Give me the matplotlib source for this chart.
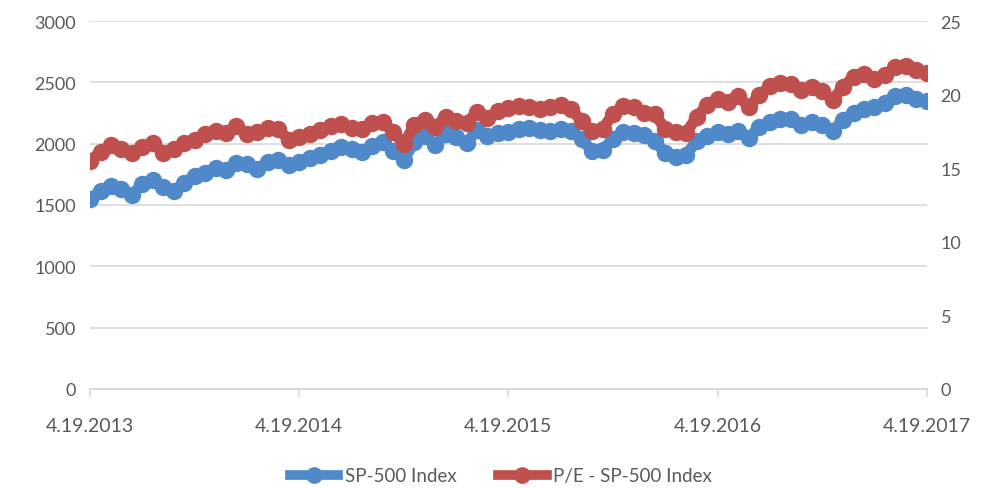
import matplotlib
matplotlib.use("Agg")
import matplotlib.pyplot as plt
import numpy as np
from matplotlib.lines import Line2D

# roughly three-weekly readings, 4.19.2013 .. 4.19.2017
sp500 = [
    1549, 1614, 1655, 1631, 1582, 1671, 1704, 1647, 1614, 1680,
    1737, 1761, 1802, 1785, 1843, 1834, 1794, 1851, 1867, 1826,
    1851, 1883, 1908, 1940, 1973, 1957, 1932, 1981, 2014, 1940,
    1867, 2014, 2063, 1989, 2079, 2055, 2006, 2111, 2063, 2087,
    2095, 2120, 2128, 2111, 2103, 2120, 2103, 2038, 1940, 1949,
    2038, 2095, 2087, 2071, 2022, 1924, 1891, 1908, 2022, 2063,
    2095, 2079, 2103, 2046, 2136, 2177, 2201, 2201, 2152, 2177,
    2152, 2103, 2193, 2250, 2283, 2299, 2332, 2389, 2397, 2364,
    2348,
]
pe_ratio = [
    15.49, 16.10, 16.58, 16.30, 16.03, 16.44, 16.71, 16.03, 16.30, 16.71,
    16.92, 17.32, 17.53, 17.39, 17.87, 17.32, 17.46, 17.73, 17.66, 16.92,
    17.12, 17.32, 17.60, 17.87, 18.00, 17.73, 17.66, 18.07, 18.14, 17.46,
    16.64, 17.93, 18.27, 17.80, 18.48, 18.20, 18.07, 18.82, 18.41, 18.89,
    19.09, 19.23, 19.16, 19.02, 19.16, 19.29, 19.02, 18.20, 17.53, 17.66,
    18.68, 19.23, 19.16, 18.75, 18.68, 17.66, 17.46, 17.39, 18.48, 19.29,
    19.70, 19.50, 19.90, 19.16, 19.97, 20.58, 20.79, 20.72, 20.31, 20.52,
    20.24, 19.63, 20.52, 21.20, 21.40, 21.06, 21.33, 21.88, 21.94, 21.67,
    21.47,
]
year_labels = ["4.19.2013", "4.19.2014", "4.19.2015", "4.19.2016", "4.19.2017"]

BLUE = "#5089CA"
RED = "#C0504D"
TEXT = "#595959"
GRID = "#D9D9D9"

plt.rcParams["font.family"] = ["Lato", "DejaVu Sans"]

fig = plt.figure(figsize=(9.82, 4.89), dpi=100)
ax = fig.add_axes([0.0917, 0.2025, 0.852, 0.7525])
ax2 = ax.twinx()

x = np.arange(len(sp500))
ax.plot(x, sp500, color=BLUE, lw=8, marker="o", ms=11.5, zorder=3)
ax2.plot(x, pe_ratio, color=RED, lw=8, marker="o", ms=11.5, zorder=3)

ax.set_xlim(0, len(sp500) - 1)
ax.set_ylim(0, 3000)
ax2.set_ylim(0, 25)
ax.set_yticks(np.arange(0, 3001, 500))
ax2.set_yticks(np.arange(0, 26, 5))

step = (len(sp500) - 1) // (len(year_labels) - 1)
ax.set_xticks(np.arange(0, len(sp500), step))
ax.set_xticklabels(year_labels)

ax.grid(axis="y", color=GRID, lw=1.2)
ax.set_axisbelow(True)
for a in (ax, ax2):
    for s in ("top", "left", "right"):
        a.spines[s].set_visible(False)
    a.spines["bottom"].set_color(GRID)
    a.spines["bottom"].set_linewidth(1.2)
ax.tick_params(axis="y", length=0, labelsize=13, labelcolor=TEXT, pad=10)
ax2.tick_params(axis="y", length=0, labelsize=13, labelcolor=TEXT, pad=10)
ax.tick_params(axis="x", length=6, color=GRID, width=1.2, labelsize=14,
               labelcolor=TEXT, pad=14)

handles = [
    Line2D([], [], color=BLUE, lw=7, marker="o", ms=11),
    Line2D([], [], color=RED, lw=7, marker="o", ms=11),
]
fig.legend(handles, ["SP-500 Index", "P/E - SP-500 Index"], loc="center",
           bbox_to_anchor=(0.51, 0.025), ncol=2, frameon=False, fontsize=13.5,
           labelcolor=TEXT, handlelength=2.6, handletextpad=0.35, columnspacing=2.2)

fig.savefig("out.png", dpi=100)
